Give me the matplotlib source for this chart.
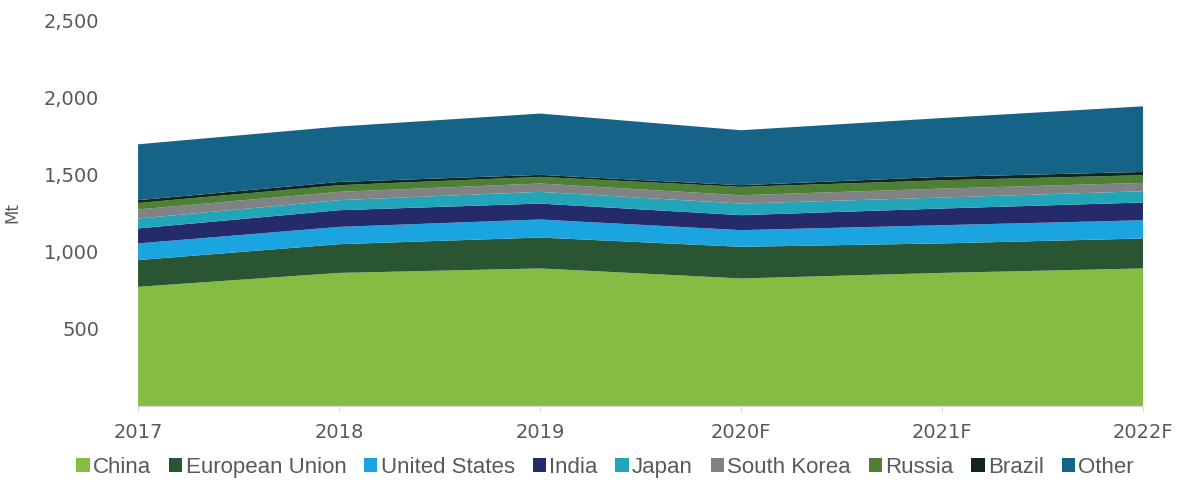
import matplotlib.pyplot as plt
from matplotlib.ticker import FuncFormatter

# -----------------------
# Data (Mt)
# -----------------------
years = ["2017", "2018", "2019", "2020F", "2021F", "2022F"]
china = [772, 862, 891, 826, 862, 891]
eu = [173, 186, 200, 205, 191, 194]
us = [108, 112, 117, 108, 118, 118]
india = [97, 108, 103, 97, 108, 115]
japan = [64, 65, 76, 75, 71, 73]
south_korea = [59, 54, 54, 54, 58, 54]
russia = [42, 43, 43, 54, 54, 50]
brazil = [18, 21, 13, 11, 22, 21]
other = [362, 359, 397, 356, 381, 425]

labels = ["China", "European Union", "United States", "India", "Japan",
          "South Korea", "Russia", "Brazil", "Other"]
colors = ["#84bd41", "#2a5532", "#1ba5e0", "#252a6b", "#22a5b8",
          "#808284", "#4d7f35", "#0f2618", "#156386"]

# -----------------------
# Plot
# -----------------------
fig = plt.figure(figsize=(11.82, 4.82), dpi=100)
ax = fig.add_axes([0.1168, 0.1577, 0.8502, 0.8008])

x = list(range(len(years)))
ax.stackplot(x, china, eu, us, india, japan, south_korea, russia, brazil, other,
             labels=labels, colors=colors, linewidth=0)

ax.set_xlim(0, len(years) - 1)
ax.set_ylim(0, 2500)
ax.set_yticks([500, 1000, 1500, 2000, 2500])
ax.yaxis.set_major_formatter(FuncFormatter(lambda v, p: f"{int(v):,}"))
ax.set_xticks(x)
ax.set_xticklabels(years)

for s in ["top", "right", "left"]:
    ax.spines[s].set_visible(False)
ax.spines["bottom"].set_color("#d9d9d9")
ax.tick_params(axis="y", length=0, pad=28, labelsize=14, labelcolor="#595959")
ax.tick_params(axis="x", length=4, color="#d9d9d9", pad=8, labelsize=14,
               labelcolor="#595959")

ax.set_ylabel("Mt", fontsize=12, color="#595959", labelpad=16)

leg = fig.legend(loc="center", bbox_to_anchor=(0.512, 0.031), ncol=9,
                 frameon=False, handlelength=0.6, handleheight=0.6,
                 handletextpad=0.15, columnspacing=0.8, borderpad=0,
                 prop={"family": ["Liberation Sans Narrow", "Liberation Sans"], "size": 16})
for t in leg.get_texts():
    t.set_color("#595959")

fig.savefig("out.png", dpi=100)
